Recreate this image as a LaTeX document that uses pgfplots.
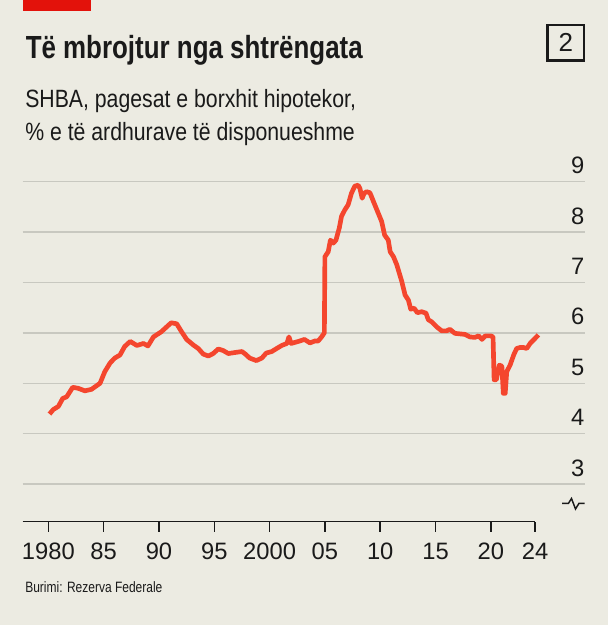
\documentclass[border=0pt]{standalone}
\usepackage{fontspec}
\setmainfont{Liberation Sans}
\newfontfamily\titlefont{Liberation Sans}[FakeStretch=0.81]
\newfontfamily\subfont{Liberation Sans}[FakeStretch=0.85]
\newfontfamily\srcfont{Liberation Sans}[FakeStretch=0.80]
\usepackage{pgfplots}
\usepackage{pgfplotstable}
\pgfplotsset{compat=1.18}
\definecolor{bg}{RGB}{236,235,226}
\definecolor{flagred}{RGB}{227,18,11}
\definecolor{linered}{RGB}{244,70,46}
\definecolor{gridgray}{RGB}{200,200,192}
\definecolor{ink}{RGB}{26,26,26}
\pgfplotstableread{
year val
1980.1 4.39
1980.45 4.48
1980.9 4.54
1981.3 4.70
1981.65 4.73
1982.2 4.92
1982.7 4.90
1983.3 4.85
1983.9 4.88
1984.67 5.00
1985.1 5.23
1985.57 5.40
1986.0 5.50
1986.47 5.56
1986.9 5.73
1987.4 5.83
1988.0 5.75
1988.6 5.79
1989.0 5.74
1989.5 5.92
1990.2 6.02
1990.7 6.12
1991.1 6.20
1991.6 6.18
1992.05 6.02
1992.5 5.87
1993.1 5.76
1993.55 5.69
1994.0 5.58
1994.46 5.54
1994.9 5.59
1995.36 5.68
1995.8 5.65
1996.27 5.59
1996.87 5.61
1997.5 5.63
1997.8 5.58
1998.2 5.50
1998.8 5.45
1999.3 5.50
1999.7 5.60
2000.2 5.63
2000.64 5.69
2001.1 5.75
2001.56 5.79
2001.75 5.92
2001.95 5.79
2002.6 5.83
2003.15 5.87
2003.65 5.80
2004.1 5.84
2004.4 5.84
2004.7 5.92
2004.95 6.00
2005.0 7.51
2005.3 7.61
2005.5 7.84
2005.76 7.78
2006.0 7.84
2006.3 8.08
2006.5 8.31
2006.8 8.44
2007.1 8.54
2007.4 8.77
2007.7 8.91
2008.0 8.93
2008.16 8.87
2008.37 8.67
2008.55 8.77
2008.77 8.80
2009.07 8.78
2009.4 8.60
2009.83 8.37
2010.13 8.21
2010.4 7.94
2010.73 7.84
2010.9 7.61
2011.2 7.51
2011.5 7.35
2011.95 7.02
2012.25 6.75
2012.55 6.65
2012.76 6.47
2013.06 6.49
2013.36 6.40
2013.75 6.42
2014.14 6.39
2014.35 6.26
2014.65 6.22
2015.1 6.12
2015.56 6.04
2016.0 6.04
2016.3 6.07
2016.76 5.99
2017.2 5.98
2017.66 5.97
2018.1 5.92
2018.56 5.91
2018.9 5.94
2019.2 5.87
2019.5 5.94
2020.0 5.94
2020.2 5.92
2020.3 5.07
2020.5 5.07
2020.77 5.36
2021.0 5.34
2021.13 4.80
2021.3 4.80
2021.44 5.23
2021.74 5.36
2022.1 5.58
2022.34 5.69
2022.64 5.71
2022.94 5.71
2023.25 5.69
2023.55 5.79
2024.0 5.89
2024.3 5.96
}\data
\begin{document}
\begin{tikzpicture}
\begin{scope}[x=0.75pt,y=0.75pt]
\fill[bg] (0,0) rectangle (608,625);
\fill[flagred] (23,614) rectangle (91,625);
\node[anchor=base west, inner sep=0pt, text=ink, font=\titlefont\bfseries\fontsize{24}{28}\selectfont] at (25.5,566.7) {Të mbrojtur nga shtrëngata};
\node[anchor=base west, inner sep=0pt, text=ink, font=\subfont\fontsize{18.75}{22}\selectfont] at (25,517.7) {SHBA, pagesat e borxhit hipotekor,};
\node[anchor=base west, inner sep=0pt, text=ink, font=\subfont\fontsize{18.75}{22}\selectfont] at (25,484.3) {\% e të ardhurave të disponueshme};
\draw[ink, line width=1.6pt] (547.5,600) rectangle (584,564.5);
\node[text=ink, inner sep=0pt, font=\fontsize{19.5}{22}\selectfont] at (565.8,582.3) {2};
\node[anchor=base west, inner sep=0pt, text=ink, font=\srcfont\fontsize{11.25}{13}\selectfont] at (25,32) {Burimi: Rezerva Federale};
\draw[ink, line width=1.1pt, line join=miter] (562,121.7) -- (568.5,121.7) -- (571.5,126.5) -- (575.5,116) -- (579,121.7) -- (584.5,121.7);
\end{scope}
\begin{axis}[
  at={(16.875pt,77.475pt)}, anchor=south west,
  scale only axis, width=421.5pt, height=262.6pt,
  xmin=1977.66, xmax=2028.47, ymin=2.254, ymax=9.2,
  axis line style={draw=none},
  xtick={1980,1985,1990,1995,2000,2005,2010,2015,2020,2024},
  xticklabels={1980,85,90,95,2000,05,10,15,20,24},
  ytick={3,4,5,6,7,8,9},
  xtick pos=bottom, ytick pos=right, yticklabel pos=right,
  tick align=outside, major tick length=7.5pt,
  xtick style={draw=ink, line width=1.1pt},
  ytick style={draw=none},
  ymajorgrids, grid style={gridgray, line width=1.1pt},
  tick label style={font=\fontsize{17.8}{20}\selectfont, text=ink},
  /pgf/number format/assume math mode=true,
  xticklabel style={anchor=base, inner sep=0pt, yshift=-21pt},
  yticklabel style={anchor=base east, inner sep=0pt, yshift=6pt, xshift=-7.5pt},
]
\draw[ink, line width=1.4pt] (axis cs:1977.66,2.254) -- (axis cs:2024,2.254);
\addplot[linered, line width=3.5pt, line join=round, no markers] table[x=year,y=val] {\data};
\end{axis}
\end{tikzpicture}
\end{document}
